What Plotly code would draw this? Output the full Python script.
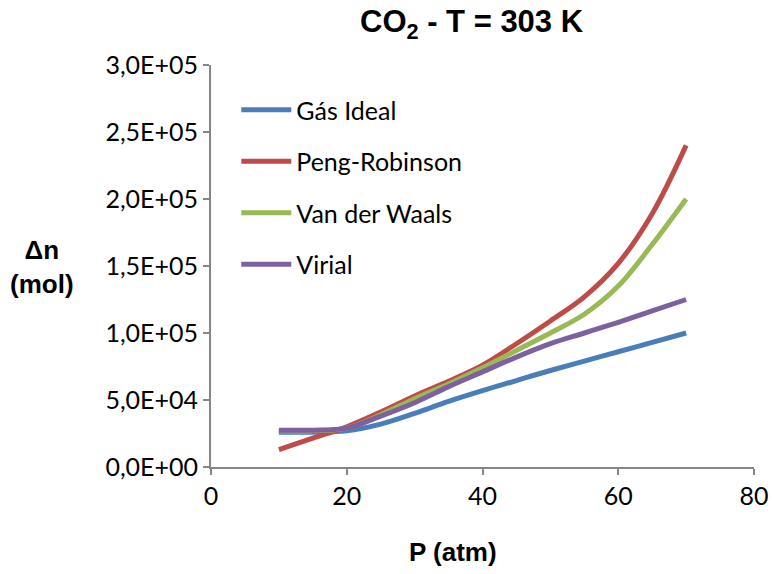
import plotly.graph_objects as go

pressure = [10, 15, 20, 25, 30, 35, 40, 45, 50, 55, 60, 65, 70]
gas_ideal = [2.6e4, 2.6e4, 2.7e4, 3.2e4, 4.0e4, 4.9e4, 5.7e4, 6.45e4, 7.2e4, 7.9e4, 8.6e4, 9.3e4, 1.0e5]
peng_robinson = [1.3e4, 2.15e4, 3.0e4, 4.1e4, 5.3e4, 6.4e4, 7.6e4, 9.2e4, 1.09e5, 1.27e5, 1.52e5, 1.89e5, 2.4e5]
van_der_waals = [2.7e4, 2.7e4, 2.9e4, 3.9e4, 5.1e4, 6.2e4, 7.4e4, 8.7e4, 1.0e5, 1.14e5, 1.35e5, 1.66e5, 2.0e5]
virial = [2.75e4, 2.75e4, 2.9e4, 3.8e4, 4.8e4, 6.0e4, 7.1e4, 8.2e4, 9.2e4, 1.0e5, 1.08e5, 1.165e5, 1.25e5]

series_names = ["Gás Ideal", "Peng-Robinson", "Van der Waals", "Virial"]
series_values = [gas_ideal, peng_robinson, van_der_waals, virial]
colors = ["#4A7EBB", "#BE4B48", "#98B954", "#7D60A0"]

y_ticks = [0, 5e4, 1e5, 1.5e5, 2e5, 2.5e5, 3e5]
y_tick_labels = ["0,0E+00", "5,0E+04", "1,0E+05", "1,5E+05", "2,0E+05", "2,5E+05", "3,0E+05"]
x_ticks = [0, 20, 40, 60, 80]

fig = go.Figure()
for i, (name, vals, col) in enumerate(zip(series_names, series_values, colors)):
    fig.add_trace(go.Scatter(
        x=pressure, y=vals, name=name, mode="lines",
        line=dict(color=col, width=5, shape="spline", smoothing=1.0),
        legendgroup=str(i),
    ))

L, R, T, B = 211, 18, 65, 107
PW, PH = 772 - L - R, 574 - T - B

tick_font = dict(family="Lato, Open Sans, sans-serif", size=25, color="#000000")
fig.update_layout(
    width=772, height=574,
    margin=dict(l=L, r=R, t=T, b=B, autoexpand=False),
    paper_bgcolor="white", plot_bgcolor="white",
    showlegend=True,
    legend=dict(x=0.03 + 9 / PW, y=0.945, xanchor="left", yanchor="top",
                font=dict(family="Lato, Open Sans, sans-serif", size=25, color="#000"),
                tracegroupgap=16, bgcolor="rgba(0,0,0,0)", itemwidth=50),
    xaxis=dict(range=[0, 80], tickvals=x_ticks, showgrid=False, zeroline=False,
               showline=True, linecolor="#868686", linewidth=2, automargin=False,
               ticks="outside", ticklen=6, tickcolor="#868686", tickwidth=2,
               tickfont=tick_font),
    yaxis=dict(range=[0, 3e5], tickvals=y_ticks, ticktext=y_tick_labels,
               showgrid=False, zeroline=False, automargin=False,
               showline=True, linecolor="#868686", linewidth=2,
               ticks="outside", ticklen=6, tickcolor="#868686", tickwidth=2,
               tickfont=tick_font),
    annotations=[
        dict(text="<b>CO<sub>2</sub> - T = 303 K</b>",
             x=(472 - L) / PW, y=1 + (T - 24) / PH, xref="paper", yref="paper",
             xanchor="center", yanchor="middle", showarrow=False,
             font=dict(family="Liberation Sans, Arial", size=31, color="#000")),
        dict(text="<b>P (atm)</b>", x=(453 - L) / PW, y=-(552 - 467) / PH,
             xref="paper", yref="paper",
             xanchor="center", yanchor="middle", showarrow=False,
             font=dict(family="Liberation Sans, Arial", size=26, color="#000")),
        dict(text="<b>Δn<br>(mol)</b>", x=(42 - L) / PW, y=(467 - 267) / PH,
             xref="paper", yref="paper",
             xanchor="center", yanchor="middle", showarrow=False,
             font=dict(family="Liberation Sans, Arial", size=26, color="#000")),
    ],
)

fig.write_html("out.html", config={"displayModeBar": False},
               post_script="document.body.style.margin='0';")
